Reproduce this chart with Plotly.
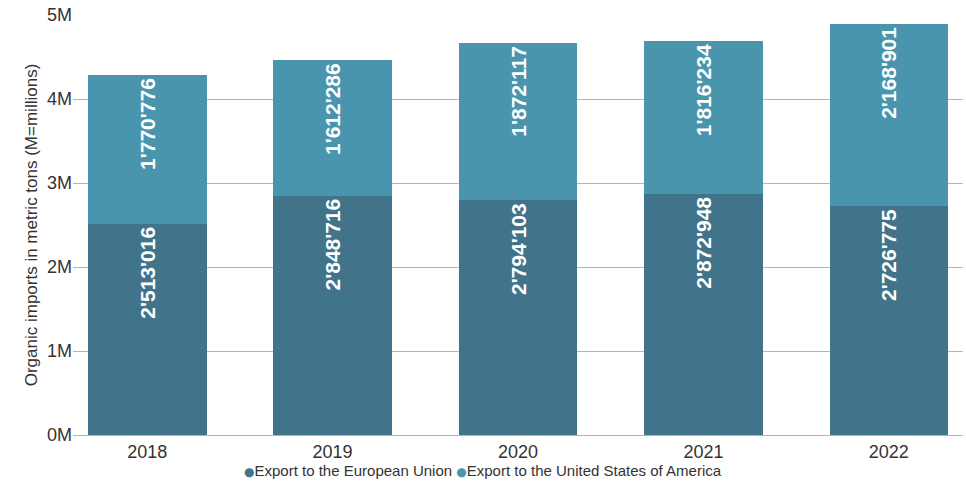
import plotly.graph_objects as go

years = ["2018", "2019", "2020", "2021", "2022"]
eu_values = [2513016, 2848716, 2794103, 2872948, 2726775]
us_values = [1770776, 1612286, 1872117, 1816234, 2168901]
series_names = ["Export to the European Union", "Export to the United States of America"]
y_tick_vals = [0, 1000000, 2000000, 3000000, 4000000, 5000000]
y_tick_text = ["0M", "1M", "2M", "3M", "4M", "5M"]

EU_COLOR = "#41738a"
US_COLOR = "#4995ae"
GRID = "#96bfcc"
FONT = "Liberation Sans, Arial, sans-serif"
TXT = "#333333"


def fmt(v):
    return f"{v:,}".replace(",", "'")


fig = go.Figure()
colors = [EU_COLOR, US_COLOR]
for name, vals, col in zip(series_names, [eu_values, us_values], colors):
    fig.add_trace(go.Bar(
        x=years, y=vals, name=name, marker=dict(color=col, line=dict(width=0)),
        text=[fmt(v) for v in vals], textposition="inside", insidetextanchor="end",
        textangle=-90, textfont=dict(color="white", size=21, family=FONT, weight="bold"),
        showlegend=False, hoverinfo="skip",
    ))

legend_text = " ".join(
    f"<span style='color:{c}; font-size:12px; font-family:DejaVu Sans'>●</span>{n}"
    for n, c in zip(series_names, colors)
)
fig.add_annotation(
    text=legend_text, xref="paper", yref="paper", x=0.4607, y=-0.06, xanchor="center",
    yanchor="top", showarrow=False, font=dict(size=15, color=TXT, family=FONT),
)

fig.update_layout(
    barmode="stack",
    bargap=0.36,
    width=966, height=483,
    margin=dict(l=73, r=3, t=15, b=48),
    paper_bgcolor="white", plot_bgcolor="white",
    font=dict(family=FONT, color=TXT),
    showlegend=False,
    xaxis=dict(range=[-0.4, 4.4], showgrid=False, showline=True, linecolor=GRID, linewidth=1,
               ticks="", tickfont=dict(size=18, color=TXT), fixedrange=True, automargin=False),
    yaxis=dict(range=[0, 5000000], tickvals=y_tick_vals, ticktext=y_tick_text,
               showgrid=True, gridcolor=GRID, gridwidth=1, zeroline=False, automargin=False,
               tickfont=dict(size=18, color=TXT), ticks="", ticklen=0,
               title=dict(text="Organic imports in metric tons (M=millions)",
                          font=dict(size=17, color=TXT), standoff=5)),
)

fig.write_html("out.html", config={"displayModeBar": False},
               post_script="document.body.style.margin='0px';")
